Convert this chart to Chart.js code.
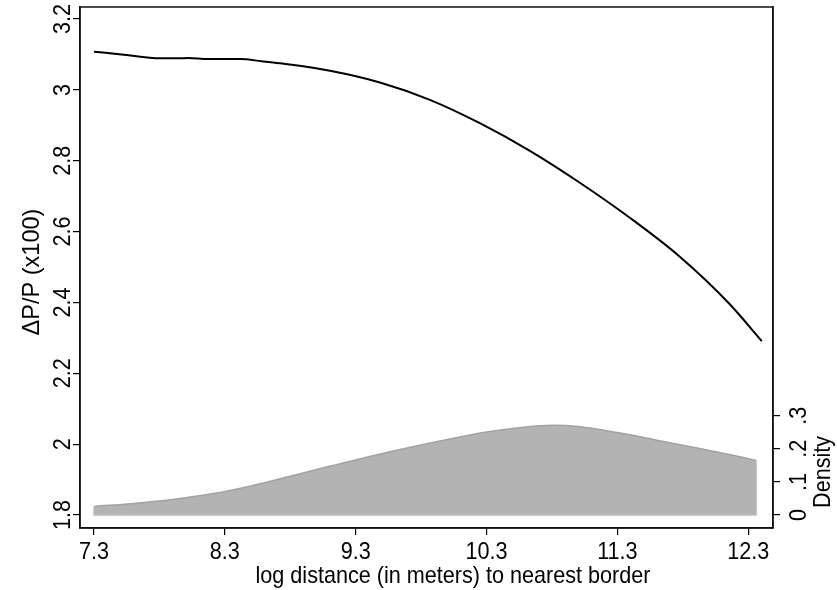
<!DOCTYPE html>
<html>
<head>
<meta charset="utf-8">
<script src="https://cdn.jsdelivr.net/npm/chart.js@4.4.1/dist/chart.umd.min.js"></script>
<style>
html,body{margin:0;padding:0;background:#fff;}
#wrap{width:837px;height:590px;position:relative;}
</style>
</head>
<body>
<div id="wrap"><canvas id="c"></canvas></div>
<script>
// ---- data ----
const xTicks = [7.3, 8.3, 9.3, 10.3, 11.3, 12.3];
const xTickLabels = ['7.3', '8.3', '9.3', '10.3', '11.3', '12.3'];
const yTicks = [1.8, 2, 2.2, 2.4, 2.6, 2.8, 3, 3.2];
const yTickLabels = ['1.8', '2', '2.2', '2.4', '2.6', '2.8', '3', '3.2'];
const densTicks = [0, 0.1, 0.2, 0.3];
const densTickLabels = ['0', '.1', '.2', '.3'];

const effectX = [7.30, 7.51, 7.81, 7.95, 8.02, 8.17, 8.42, 8.58, 8.721, 9.103, 9.485, 9.867, 10.249, 10.631, 11.013, 11.395, 11.777, 12.159, 12.403];
const effectY = [3.108, 3.100, 3.089, 3.089, 3.090, 3.087, 3.087, 3.081, 3.075, 3.054, 3.021, 2.972, 2.906, 2.828, 2.738, 2.639, 2.529, 2.395, 2.291];

const densX = [7.30, 7.60, 7.90, 8.20, 8.50, 8.80, 9.10, 9.40, 9.70, 10.00, 10.30, 10.60, 10.80, 11.00, 11.30, 11.60, 11.90, 12.20, 12.36];
const densY = [0.026, 0.035, 0.047, 0.064, 0.088, 0.117, 0.147, 0.176, 0.203, 0.228, 0.251, 0.266, 0.271, 0.267, 0.249, 0.226, 0.203, 0.179, 0.165];

const xTitle = 'log distance (in meters) to nearest border';
const yTitle = '\u0394P/P (x100)';
const y2Title = 'Density';

// ---- text style ----
const FAMILY = '"Liberation Sans", Arial, Helvetica, sans-serif';
const COND = 0.9;
const FS = 24;

function txt(ctx, s, x, y, rot, align, base, size, cond) {
  ctx.save();
  ctx.translate(x, y);
  ctx.rotate(rot);
  ctx.scale(cond || COND, 1);
  ctx.font = size + 'px ' + FAMILY;
  ctx.fillStyle = '#000';
  ctx.textAlign = align;
  ctx.textBaseline = base;
  ctx.fillText(s, 0, 0);
  ctx.restore();
}

const textPlugin = {
  id: 'stataText',
  afterDraw(chart) {
    const ctx = chart.ctx;
    const a = chart.chartArea;
    const sx = chart.scales.x, sy = chart.scales.y, sy2 = chart.scales.y2;
    ctx.save();
    ctx.strokeStyle = '#111';
    ctx.lineWidth = 1.5;
    ctx.strokeRect(a.left, a.top, a.right - a.left, a.bottom - a.top);
    ctx.restore();
    xTicks.forEach((v, i) => txt(ctx, xTickLabels[i], sx.getPixelForValue(v), 559, 0, 'center', 'alphabetic', FS));
    txt(ctx, xTitle, 453, 583, 0, 'center', 'alphabetic', FS);
    yTicks.forEach((v, i) => txt(ctx, yTickLabels[i], 70, sy.getPixelForValue(v), -Math.PI / 2, 'center', 'alphabetic', FS));
    txt(ctx, yTitle, 39, 272, -Math.PI / 2, 'center', 'alphabetic', FS, 0.98);
    densTicks.forEach((v, i) => txt(ctx, densTickLabels[i], 806, sy2.getPixelForValue(v), -Math.PI / 2, 'center', 'alphabetic', FS));
    txt(ctx, y2Title, 830, sy2.getPixelForValue(0.13), -Math.PI / 2, 'center', 'alphabetic', FS);
  }
};

const effectData = effectX.map((x, i) => ({x: x, y: effectY[i]}));
const densData = densX.map((x, i) => ({x: x, y: densY[i]}));
const n = densX.length - 1;
const densOutline = [
  {x: densX[0], y: densY[0]}, {x: densX[0], y: 0},
  {x: densX[n], y: 0}, {x: densX[n], y: densY[n]}
];

const tickGrid = {display: true, drawOnChartArea: false, drawTicks: true, tickLength: 7, color: '#000', lineWidth: 1.2};

new Chart(document.getElementById('c'), {
  type: 'scatter',
  data: {
    datasets: [
      {
        data: effectData, yAxisID: 'y', showLine: true, borderColor: '#000', borderWidth: 2,
        pointRadius: 0, cubicInterpolationMode: 'monotone', fill: false, order: 0
      },
      {
        data: densData, yAxisID: 'y2', showLine: true, borderColor: '#a2a2a2', borderWidth: 1.5,
        backgroundColor: '#b3b3b3', pointRadius: 0, tension: 0.4, fill: 'origin', order: 2
      },
      {
        data: densOutline, yAxisID: 'y2', showLine: true, borderColor: '#bdbdbd', borderWidth: 1.5,
        pointRadius: 0, tension: 0, fill: false, order: 1
      }
    ]
  },
  options: {
    responsive: true,
    maintainAspectRatio: false,
    devicePixelRatio: 1,
    animation: false,
    events: [],
    layout: {padding: {top: 7, left: 0, right: 0, bottom: 0}},
    plugins: {legend: {display: false}, tooltip: {enabled: false}},
    scales: {
      x: {
        type: 'linear', position: 'bottom', min: 7.193, max: 12.489,
        afterBuildTicks: s => { s.ticks = xTicks.map(v => ({value: v})); },
        afterFit: s => { s.height = 62; },
        ticks: {display: false},
        grid: tickGrid,
        border: {display: true, color: '#111', width: 1.5}
      },
      y: {
        type: 'linear', position: 'left', min: 1.7633, max: 3.234,
        afterBuildTicks: s => { s.ticks = yTicks.map(v => ({value: v})); },
        afterFit: s => { s.width = 80; },
        ticks: {display: false},
        grid: tickGrid,
        border: {display: true, color: '#111', width: 1.5}
      },
      y2: {
        type: 'linear', position: 'right', min: -0.0393, max: 1.5347,
        afterBuildTicks: s => { s.ticks = densTicks.map(v => ({value: v})); },
        afterFit: s => { s.width = 64; },
        ticks: {display: false},
        grid: tickGrid,
        border: {display: true, color: '#111', width: 1.5}
      }
    }
  },
  plugins: [textPlugin]
});
</script>
</body>
</html>
